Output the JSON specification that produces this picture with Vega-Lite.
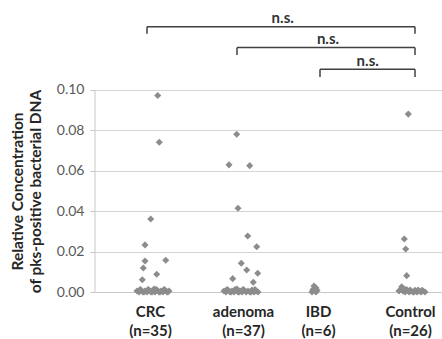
{
  "$schema": "https://vega.github.io/schema/vega-lite/v6.json",
  "width": 347,
  "height": 283,
  "autosize": {"type": "none"},
  "padding": {"left": 95, "top": 9, "right": 0, "bottom": 47},
  "background": "white",
  "config": {"view": {"stroke": null}, "font": "Lato"},
  "datasets": {
    "pts": [
      {"g":"CRC","x":157.7,"v":0.0972},{"g":"CRC","x":159.3,"v":0.0741},{"g":"CRC","x":150.7,"v":0.0361},{"g":"CRC","x":145,"v":0.0233},{"g":"CRC","x":145,"v":0.0153},{"g":"CRC","x":165.7,"v":0.0157},{"g":"CRC","x":143.3,"v":0.0119},{"g":"CRC","x":156.7,"v":0.0088},{"g":"CRC","x":142.3,"v":0.0061},
      {"g":"CRC","x":137,"v":0.0005},{"g":"CRC","x":139,"v":0},{"g":"CRC","x":141,"v":0.001},{"g":"CRC","x":143,"v":0},{"g":"CRC","x":145,"v":0.0005},{"g":"CRC","x":147,"v":0},{"g":"CRC","x":149,"v":0.001},{"g":"CRC","x":151,"v":0},{"g":"CRC","x":153,"v":0.0005},{"g":"CRC","x":155,"v":0},{"g":"CRC","x":157,"v":0.001},{"g":"CRC","x":159,"v":0},{"g":"CRC","x":161,"v":0.0005},{"g":"CRC","x":163,"v":0},{"g":"CRC","x":165,"v":0.001},{"g":"CRC","x":167,"v":0},{"g":"CRC","x":169,"v":0.0005},
      {"g":"CRC","x":140,"v":0.0012},{"g":"CRC","x":144,"v":0},{"g":"CRC","x":148,"v":0.0012},{"g":"CRC","x":152,"v":0},{"g":"CRC","x":156,"v":0.0012},{"g":"CRC","x":160,"v":0},{"g":"CRC","x":164,"v":0.0012},{"g":"CRC","x":168,"v":0},{"g":"CRC","x":154,"v":0.0015},
      {"g":"adenoma","x":236.7,"v":0.078},{"g":"adenoma","x":229,"v":0.0629},{"g":"adenoma","x":249.7,"v":0.0625},{"g":"adenoma","x":238,"v":0.0414},{"g":"adenoma","x":247.7,"v":0.0277},{"g":"adenoma","x":256.7,"v":0.0224},{"g":"adenoma","x":241.3,"v":0.0142},{"g":"adenoma","x":246.7,"v":0.0109},{"g":"adenoma","x":257.7,"v":0.0093},{"g":"adenoma","x":232.7,"v":0.0066},{"g":"adenoma","x":253.3,"v":0.0048},
      {"g":"adenoma","x":224,"v":0.0005},{"g":"adenoma","x":226,"v":0},{"g":"adenoma","x":228,"v":0.001},{"g":"adenoma","x":230,"v":0},{"g":"adenoma","x":232,"v":0.0005},{"g":"adenoma","x":234,"v":0},{"g":"adenoma","x":236,"v":0.001},{"g":"adenoma","x":238,"v":0},{"g":"adenoma","x":240,"v":0.0005},{"g":"adenoma","x":242,"v":0},{"g":"adenoma","x":244,"v":0.001},{"g":"adenoma","x":246,"v":0},{"g":"adenoma","x":248,"v":0.0005},{"g":"adenoma","x":250,"v":0},{"g":"adenoma","x":252,"v":0.001},{"g":"adenoma","x":254,"v":0},{"g":"adenoma","x":256,"v":0.0005},{"g":"adenoma","x":258,"v":0},
      {"g":"adenoma","x":227,"v":0.0012},{"g":"adenoma","x":231,"v":0},{"g":"adenoma","x":235,"v":0.0012},{"g":"adenoma","x":239,"v":0},{"g":"adenoma","x":243,"v":0.0012},{"g":"adenoma","x":251,"v":0},{"g":"adenoma","x":255,"v":0.0012},{"g":"adenoma","x":237,"v":0.0015},
      {"g":"IBD","x":314,"v":0.003},{"g":"IBD","x":316,"v":0.002},{"g":"IBD","x":313,"v":0.0012},{"g":"IBD","x":317,"v":0.0008},{"g":"IBD","x":312,"v":0},{"g":"IBD","x":316,"v":0},
      {"g":"Control","x":408.3,"v":0.088},{"g":"Control","x":404.3,"v":0.0262},{"g":"Control","x":405.7,"v":0.0213},{"g":"Control","x":406.7,"v":0.0081},{"g":"Control","x":401.7,"v":0.0026},
      {"g":"Control","x":399,"v":0.0005},{"g":"Control","x":401,"v":0.0012},{"g":"Control","x":403,"v":0.0005},{"g":"Control","x":405,"v":0},{"g":"Control","x":407,"v":0.001},{"g":"Control","x":409,"v":0},{"g":"Control","x":411,"v":0.0005},{"g":"Control","x":413,"v":0},{"g":"Control","x":415,"v":0.0008},{"g":"Control","x":417,"v":0},{"g":"Control","x":419,"v":0.0005},{"g":"Control","x":421,"v":0},{"g":"Control","x":423,"v":0.0005},{"g":"Control","x":425,"v":0},
      {"g":"Control","x":402,"v":0.0018},{"g":"Control","x":404,"v":0.001},{"g":"Control","x":406,"v":0.0012},{"g":"Control","x":410,"v":0.001},{"g":"Control","x":414,"v":0},{"g":"Control","x":418,"v":0.001},{"g":"Control","x":422,"v":0.0008}
    ],
    "brackets": [
      {"x1":147,"x2":415,"y":0.1312,"yb":0.1277,"yt":0.1356,"xt":282.7,"label":"n.s."},
      {"x1":237,"x2":415,"y":0.1210,"yb":0.1173,"yt":0.1252,"xt":328,"label":"n.s."},
      {"x1":320,"x2":415,"y":0.1102,"yb":0.1063,"yt":0.1144,"xt":367.7,"label":"n.s."}
    ],
    "yaxis": [{"x":95,"y1":0,"y2":0.1}]
  },
  "layer": [
    {
      "data": {"name": "yaxis"},
      "mark": {"type": "rule", "color": "#c8c8c8", "strokeWidth": 1},
      "encoding": {
        "x": {"field": "x", "type": "quantitative", "scale": {"domain": [95, 442], "nice": false, "zero": false},
          "axis": {"values": [150, 243, 318, 410], "grid": false, "ticks": false, "domainColor": "#c8c8c8",
            "labelExpr": "datum.value == 150 ? ['CRC','(n=35)'] : datum.value == 243 ? ['adenoma','(n=37)'] : datum.value == 318 ? ['IBD','(n=6)'] : ['Control','(n=26)']",
            "labelFont": "Lato", "labelFontSize": 15, "labelFontWeight": "bold", "labelColor": "#262626", "labelPadding": 12, "labelLineHeight": 19, "labelBaseline": "top", "title": null}},
        "y": {"field": "y1", "type": "quantitative", "scale": {"domain": [0, 0.14], "nice": false},
          "axis": {"values": [0, 0.02, 0.04, 0.06, 0.08, 0.1], "format": ".2f", "grid": true, "gridColor": "#d4d4d4", "domain": false,
            "tickColor": "#c8c8c8", "tickSize": 5, "labelFont": "Lato", "labelFontSize": 14, "labelColor": "#595959", "labelPadding": 6,
            "title": ["Relative Concentration", "of pks-positive bacterial DNA"], "titleFont": "Lato", "titleFontSize": 15.5, "titleFontWeight": "bold", "titleColor": "#262626", "titlePadding": 13, "titleLineHeight": 18, "titleY": 182, "titleAnchor": null}},
        "y2": {"field": "y2"}
      }
    },
    {
      "data": {"name": "pts"},
      "mark": {"type": "point", "shape": "diamond", "filled": true, "color": "#8c8c8c", "size": 50, "opacity": 1},
      "encoding": {
        "x": {"field": "x", "type": "quantitative"},
        "y": {"field": "v", "type": "quantitative"}
      }
    },
    {
      "data": {"name": "brackets"},
      "mark": {"type": "rule", "color": "#404040", "strokeWidth": 1.5},
      "encoding": {"x": {"field": "x1", "type": "quantitative"}, "x2": {"field": "x2"}, "y": {"field": "y", "type": "quantitative"}}
    },
    {
      "data": {"name": "brackets"},
      "mark": {"type": "rule", "color": "#404040", "strokeWidth": 1.5},
      "encoding": {"x": {"field": "x1", "type": "quantitative"}, "y": {"field": "y", "type": "quantitative"}, "y2": {"field": "yb"}}
    },
    {
      "data": {"name": "brackets"},
      "mark": {"type": "rule", "color": "#404040", "strokeWidth": 1.5},
      "encoding": {"x": {"field": "x2", "type": "quantitative"}, "y": {"field": "y", "type": "quantitative"}, "y2": {"field": "yb"}}
    },
    {
      "data": {"name": "brackets"},
      "mark": {"type": "text", "font": "Lato", "fontSize": 15, "fontWeight": "bold", "color": "#333333", "baseline": "middle", "align": "center"},
      "encoding": {"x": {"field": "xt", "type": "quantitative"}, "y": {"field": "yt", "type": "quantitative"}, "text": {"field": "label"}}
    }
  ]
}
